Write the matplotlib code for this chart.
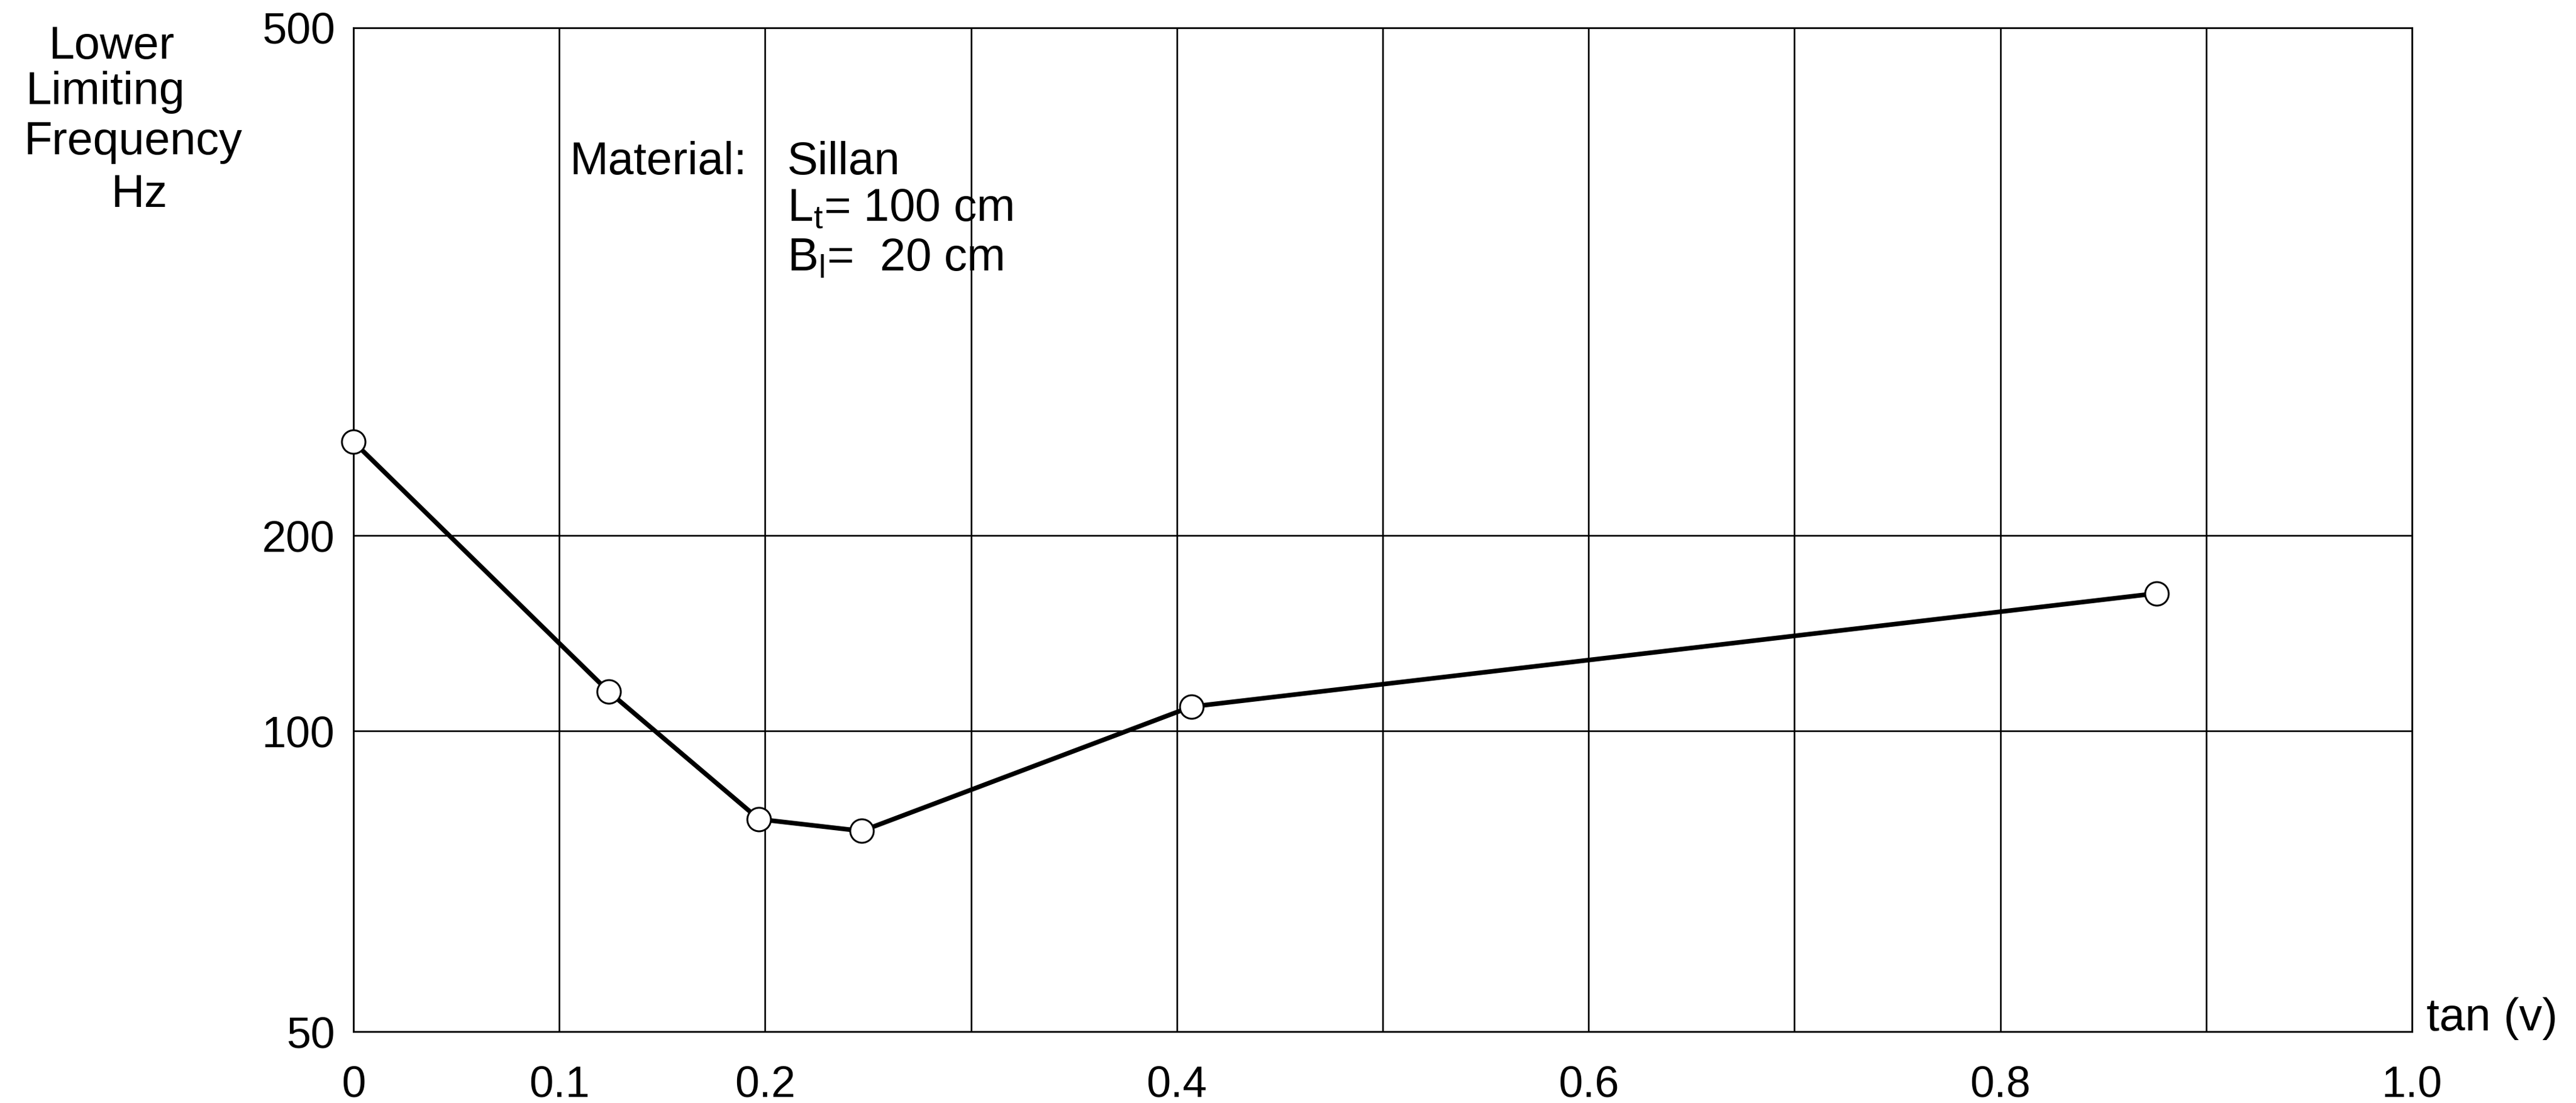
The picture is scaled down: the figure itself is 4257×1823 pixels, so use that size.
import numpy as np
import matplotlib
matplotlib.use("Agg")
import matplotlib.pyplot as plt

# data
tan_v = [0.0, 0.124, 0.197, 0.247, 0.407, 0.876]
freq_hz = [237, 115, 81.6, 79.4, 109, 163]

x_ticks = [0, 0.1, 0.2, 0.3, 0.4, 0.5, 0.6, 0.7, 0.8, 0.9, 1.0]
x_labels = ["0", "0.1", "0.2", "", "0.4", "", "0.6", "", "0.8", "", "1.0"]
y_ticks = [50, 100, 200, 500]
y_labels = ["50", "100", "200", "500"]

# the printed ordinate is not a clean log scale: the 200 line sits lower than it should
y_frac = [0.0, 0.2995, 0.494, 1.0]


def fwd(v):
    v = np.clip(np.asarray(v, dtype=float), 1e-6, None)
    return np.interp(np.log10(v), np.log10(y_ticks), y_frac)


def inv(p):
    return 10 ** np.interp(np.asarray(p, dtype=float), y_frac, np.log10(y_ticks))


plt.rcParams['font.family'] = ['Liberation Sans', 'DejaVu Sans']
plt.rcParams['mathtext.fontset'] = 'custom'
plt.rcParams['mathtext.rm'] = 'Liberation Sans'

W, H = 4257, 1823
fig = plt.figure(figsize=(W / 100, H / 100), dpi=100)
ax = fig.add_axes([584 / W, 1 - 1705 / H, (3986 - 584) / W, (1705 - 46) / H])

ax.set_yscale('function', functions=(fwd, inv))
ax.set_xlim(0, 1.0)
ax.set_ylim(50, 500)

ax.plot(tan_v, freq_hz, color='black', lw=5.5, marker='o', markersize=28,
        markerfacecolor='white', markeredgecolor='black', markeredgewidth=2.2,
        zorder=3, clip_on=False)

ax.set_xticks(x_ticks)
ax.set_xticklabels(x_labels)
ax.set_yticks(y_ticks)
ax.set_yticklabels(y_labels)
ax.minorticks_off()
ax.tick_params(axis='both', length=0, labelsize=52)
ax.tick_params(axis='x', pad=40)
ax.tick_params(axis='y', pad=22)
ax.grid(True, color='black', lw=1.9)
for s in ax.spines.values():
    s.set_linewidth(2)
    s.set_color('black')


def ftext(x, y, s, **kw):
    fig.text(x / W, 1 - y / H, s, fontsize=55, va='baseline', **kw)


# y-axis title, hand lettered lines
ftext(185, 97, "Lower", ha='center')
ftext(174, 172, "Limiting", ha='center')
ftext(220, 255, "Frequency", ha='center')
ftext(230, 342, "Hz", ha='center')

ftext(942, 288, "Material:", ha='left')
ftext(1301, 288, "Sillan", ha='left')
ftext(1301, 365, r"$\mathregular{L_t}$= 100 cm", ha='left')
ftext(1301, 447, r"$\mathregular{B_l}$=  20 cm", ha='left')

ftext(4010, 1703, "tan (v)", ha='left')

fig.savefig("out.png", dpi=100, facecolor='white')
